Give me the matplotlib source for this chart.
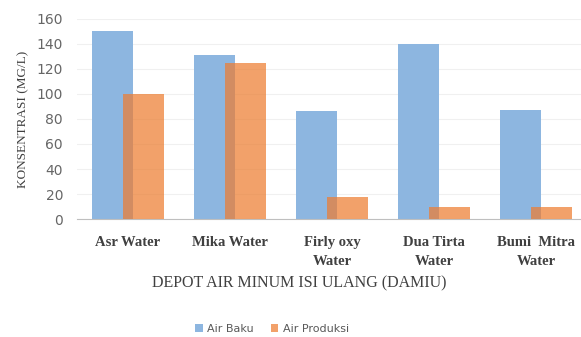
import numpy as np
import matplotlib.pyplot as plt

depots = ["Asr Water", "Mika Water", "Firly oxy\nWater", "Dua Tirta\nWater", "Bumi  Mitra\nWater"]
air_baku = [150, 131, 86, 140, 87]
air_produksi = [100, 125, 18, 10, 10]
yticks = [0, 20, 40, 60, 80, 100, 120, 140, 160]

fig = plt.figure(figsize=(5.81, 3.37), dpi=100)
ax = fig.add_axes([0.1325, 0.350, 0.878, 0.594])

x = np.arange(len(depots))
w = 0.4
ax.bar(x - 0.15, air_baku, w, color="#8db6e0", label="Air Baku", zorder=2)
ax.bar(x + 0.15, air_produksi, w, color="#ed7d31", alpha=0.72, label="Air Produksi", zorder=3)

ax.set_xlim(-0.5, 4.5)
ax.set_ylim(0, 160)
ax.set_yticks(yticks)
ax.yaxis.grid(True, color="#f0f0f0", linewidth=0.8, zorder=0)
for s in ["top", "right", "left"]:
    ax.spines[s].set_visible(False)
ax.spines["bottom"].set_color("#bfbfbf")
ax.tick_params(axis="both", length=0)
ax.tick_params(axis="y", labelcolor="#666666", labelsize=10, pad=10)

ax.set_xticks(x)
ax.set_xticklabels(depots, family="Liberation Serif", fontweight="bold", fontsize=10.5,
                   color="#404040", linespacing=1.6)
ax.tick_params(axis="x", pad=12)

fig.text(299 / 581, 1 - 283 / 337, "DEPOT AIR MINUM ISI ULANG (DAMIU)", family="Liberation Serif",
         fontsize=11.5, color="#404040", ha="center", va="center")
ax.set_ylabel("KONSENTRASI (MG/L)", family="Liberation Serif", fontsize=9.5, color="#404040", labelpad=5)

fig.legend(loc="center", bbox_to_anchor=(272 / 581, 1 - 329 / 337), ncol=2, frameon=False, fontsize=8,
           labelcolor="#595959", handlelength=0.7, handleheight=0.7, columnspacing=1.5, handletextpad=0.4)

fig.savefig("out.png", dpi=100)
